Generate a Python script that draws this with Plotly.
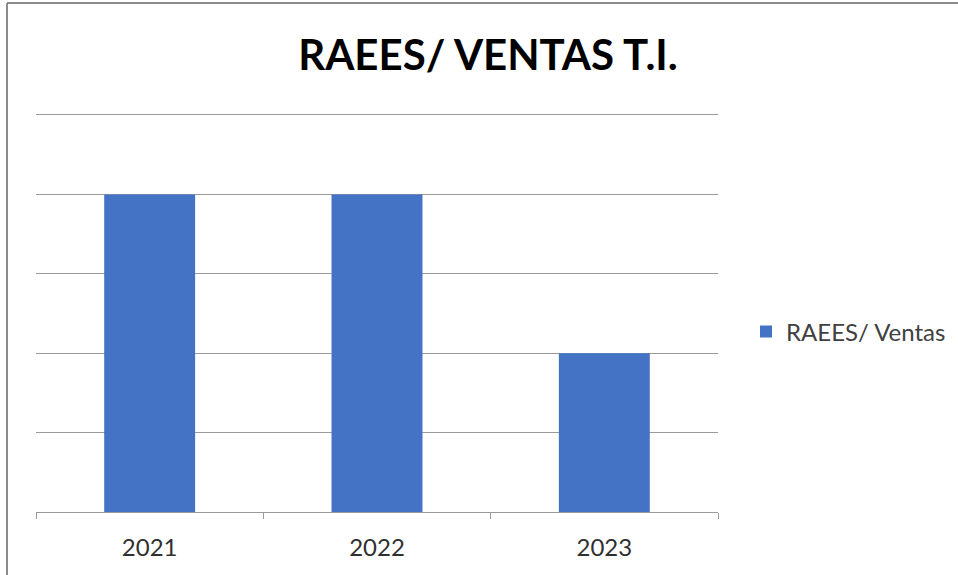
import plotly.graph_objects as go

categories = ["2021", "2022", "2023"]
values = [4, 4, 2]
series_name = "RAEES/ Ventas"
title_text = "RAEES/ VENTAS T.I."

W, H = 958, 575
YMAX = 5.05
L, R, B = 36, 718, 512
T = B - (B - 115) * YMAX / 5.0

def px_x(px):
    return (px - L) / (R - L)

def px_y(py):
    return (B - py) / (B - T)

fig = go.Figure()
fig.add_trace(go.Bar(
    x=categories, y=values, name=series_name,
    marker=dict(color="#4472C4", line=dict(width=0)),
    showlegend=True,
))

fig.update_layout(
    width=W, height=H,
    margin=dict(l=L, r=W - R, t=T, b=H - B, pad=0, autoexpand=False),
    paper_bgcolor="white", plot_bgcolor="white",
    font=dict(family="Lato", color="#404040"),
    bargap=0.6,
    showlegend=True,
    title=dict(text=title_text, x=488 / W, xanchor="center", xref="container",
               y=1 - 55 / H, yanchor="middle", yref="container",
               font=dict(family="Lato", size=42, color="black", weight="bold")),
    legend=dict(x=px_x(746), xanchor="left", y=px_y(332), yanchor="middle",
                font=dict(family="Lato", size=24, color="#404040"),
                itemwidth=30, bgcolor="rgba(0,0,0,0)"),
    xaxis=dict(type="category", showgrid=False, showline=True, linecolor="#9a9a9a",
               linewidth=1, ticks="outside", tickson="boundaries", ticklen=6,
               tickcolor="#9a9a9a", tickfont=dict(family="Lato", size=24, color="#303030"),
               ticklabelstandoff=14),
    yaxis=dict(range=[0, YMAX], dtick=1, showgrid=True, gridcolor="#9a9a9a", gridwidth=1,
               showticklabels=False, zeroline=False, showline=False, ticks=""),
    shapes=[
        dict(type="line", xref="paper", yref="paper", x0=px_x(7), x1=px_x(7),
             y0=px_y(3), y1=px_y(H), line=dict(color="#8c8c8c", width=2)),
        dict(type="line", xref="paper", yref="paper", x0=px_x(7), x1=px_x(W),
             y0=px_y(3), y1=px_y(3), line=dict(color="#8c8c8c", width=2)),
    ],
)

fig.write_html("out.html", config={"displayModeBar": False},
               post_script="document.body.style.margin='0';document.body.style.overflow='hidden';")
